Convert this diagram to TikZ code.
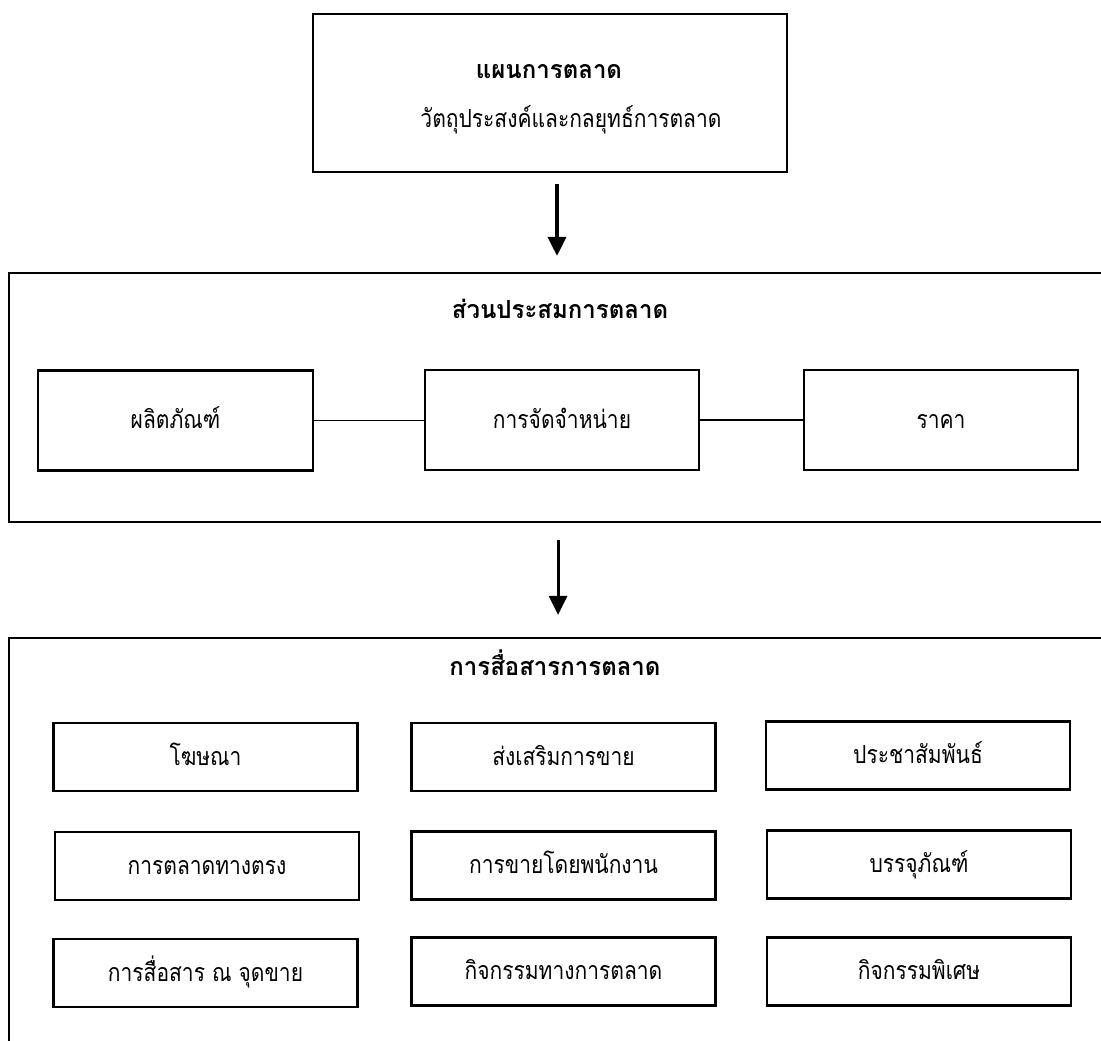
\documentclass[tikz,border=0pt]{standalone}
\usepackage{fontspec}
\newfontfamily\thai[Script=Thai, FakeStretch=0.84, BoldFeatures={FakeStretch=0.96}]{Loma}
\usetikzlibrary{arrows.meta}
\tikzset{
  outerbox/.style={draw, line width=2.2pt, rectangle, inner sep=0pt},
  innerbox/.style={draw, line width=2.6pt, rectangle, inner sep=0pt},
  txt/.style={font=\thai\fontsize{25}{28}\selectfont, inner sep=0pt, anchor=base},
  ttl/.style={font=\thai\bfseries\fontsize{25}{28}\selectfont, inner sep=0pt, anchor=base},
  link/.style={line width=1.2pt},
  flow/.style={line width=3.6pt, -{Triangle[length=19pt,width=18pt]}},
}
\begin{document}
\begin{tikzpicture}[x=1pt,y=-1pt]
\useasboundingbox (0,0) rectangle (1101,1041);
\clip (0,0) rectangle (1101,1041);
\fill[white] (0,0) rectangle (1101,1041);
% top box
\node[outerbox, minimum width=474pt, minimum height=158pt] (top) at (550,93) {};
\node[ttl] (toptitle) at (549,79) {แผนการตลาด};
\node[txt] (topsub) at (571,127) {วัตถุประสงค์และกลยุทธ์การตลาด};
% middle box
\node[outerbox, minimum width=1102pt, minimum height=249pt] (mid) at (560,397.5) {};
\node[ttl] (midtitle) at (560,318) {ส่วนประสมการตลาด};
\node[innerbox, minimum width=275pt, minimum height=100pt] (prod) at (175.5,420.5) {};
\node[txt] at ([yshift=-8pt]prod.center) {ผลิตภัณฑ์};
\node[innerbox, minimum width=274pt, minimum height=100pt] (dist) at (562,420) {};
\node[txt] at ([yshift=-8pt]dist.center) {การจัดจำหน่าย};
\node[innerbox, minimum width=274pt, minimum height=100pt] (price) at (941,420) {};
\node[txt] at ([yshift=-8pt]price.center) {ราคา};
\draw[link] (prod.east) -- (prod.east -| dist.west);
\draw[link] (dist.east) -- (price.west);
% bottom box
\node[outerbox, minimum width=1103pt, minimum height=440pt] (bot) at (560.5,858) {};
\node[ttl] (bottitle) at (555,675) {การสื่อสารการตลาด};
\tikzset{cbox/.style={innerbox, minimum width=304pt, minimum height=68pt}}
\node[cbox] (c11) at (205.5,757) {}; \node[txt] at ([yshift=-8pt]c11.center) {โฆษณา};
\node[cbox] (c12) at (563.5,757) {}; \node[txt] at ([yshift=-8pt]c12.center) {ส่งเสริมการขาย};
\node[cbox] (c13) at (918,755.5) {}; \node[txt] at ([yshift=-8pt]c13.center) {ประชาสัมพันธ์};
\node[cbox] (c21) at (207,866) {}; \node[txt] at ([yshift=-8pt]c21.center) {การตลาดทางตรง};
\node[cbox] (c22) at (563.5,865.5) {}; \node[txt] at ([yshift=-8pt]c22.center) {การขายโดยพนักงาน};
\node[cbox] (c23) at (919,864.5) {}; \node[txt] at ([yshift=-8pt]c23.center) {บรรจุภัณฑ์};
\node[cbox] (c31) at (205.5,973) {}; \node[txt] at ([yshift=-8pt]c31.center) {การสื่อสาร ณ จุดขาย};
\node[cbox] (c32) at (563.5,971.5) {}; \node[txt] at ([yshift=-8pt]c32.center) {กิจกรรมทางการตลาด};
\node[cbox] (c33) at (919,971.5) {}; \node[txt] at ([yshift=-8pt]c33.center) {กิจกรรมพิเศษ};
% arrows
\draw[flow, shorten <=11pt, shorten >=16pt] ([xshift=7pt]top.south) -- ([xshift=-3pt]mid.north);
\draw[flow, line width=3pt, shorten <=17pt, shorten >=22pt] ([xshift=-2pt]mid.south) -- ([xshift=-2.5pt]bot.north);
\end{tikzpicture}
\end{document}
